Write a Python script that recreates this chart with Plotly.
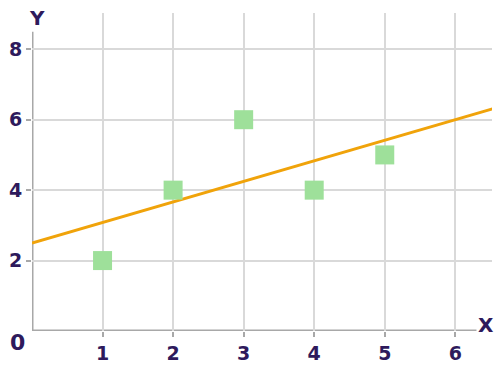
import plotly.graph_objects as go

x_points = [1, 2, 3, 4, 5]
y_points = [2, 4, 6, 4, 5]
line_x = [0, 6.55]
line_y = [2.5, 6.32]
x_ticks = [1, 2, 3, 4, 5, 6]
y_ticks = [2, 4, 6, 8]

txt = "#2e1a5c"
axis_gray = "#a8a8a8"
grid_gray = "#d9d9d9"
font = dict(family="DejaVu Sans", size=19, color=txt)

fig = go.Figure()
fig.add_trace(go.Scatter(x=line_x, y=line_y, mode="lines",
                         line=dict(color="#f0a30a", width=3), cliponaxis=True))
fig.add_trace(go.Scatter(x=x_points, y=y_points, mode="markers",
                         marker=dict(symbol="square", size=19, color="#9ee09a",
                                     line=dict(width=0))))

fig.update_layout(
    width=503, height=368,
    margin=dict(l=32, r=11, t=13, b=37, autoexpand=False),
    paper_bgcolor="white", plot_bgcolor="white",
    showlegend=False,
    font=font,
    xaxis=dict(range=[0, 6.52], tickvals=x_ticks, ticktext=[f"<b>{v}</b>" for v in x_ticks],
               showgrid=True, gridcolor=grid_gray, gridwidth=2, zeroline=False, automargin=False,
               showline=False, ticks="outside", ticklen=5, tickwidth=2, tickcolor=axis_gray,
               tickfont=font),
    yaxis=dict(range=[0, 9.03], tickvals=y_ticks, ticktext=[f"<b>{v}</b>" for v in y_ticks],
               showgrid=True, gridcolor=grid_gray, gridwidth=2, zeroline=False, automargin=False,
               showline=False, ticks="outside", ticklen=5, tickwidth=2, tickcolor=axis_gray,
               tickfont=font),
    shapes=[
        dict(type="line", xref="x", yref="y", x0=0, x1=6.3, y0=0, y1=0,
             line=dict(color=axis_gray, width=3), layer="below"),
        dict(type="line", xref="x", yref="y", x0=0, x1=0, y0=0, y1=8.5,
             line=dict(color=axis_gray, width=3), layer="below"),
    ],
    annotations=[
        dict(x=0, y=0, xref="x", yref="y", text="<b>0</b>", showarrow=False,
             xanchor="right", yanchor="top", xshift=-5, yshift=3, font=dict(family="DejaVu Sans", size=22, color=txt)),
        dict(x=6.3, y=0, xref="x", yref="y", text="<b>X</b>", showarrow=False,
             xanchor="left", yanchor="middle", xshift=0, yshift=6, font=dict(family="DejaVu Sans", size=20, color=txt)),
        dict(x=0, y=8.5, xref="x", yref="y", text="<b>Y</b>", showarrow=False,
             xanchor="center", yanchor="bottom", xshift=5, yshift=0, font=dict(family="DejaVu Sans", size=20, color=txt)),
    ],
)
fig.write_html("out.html")
